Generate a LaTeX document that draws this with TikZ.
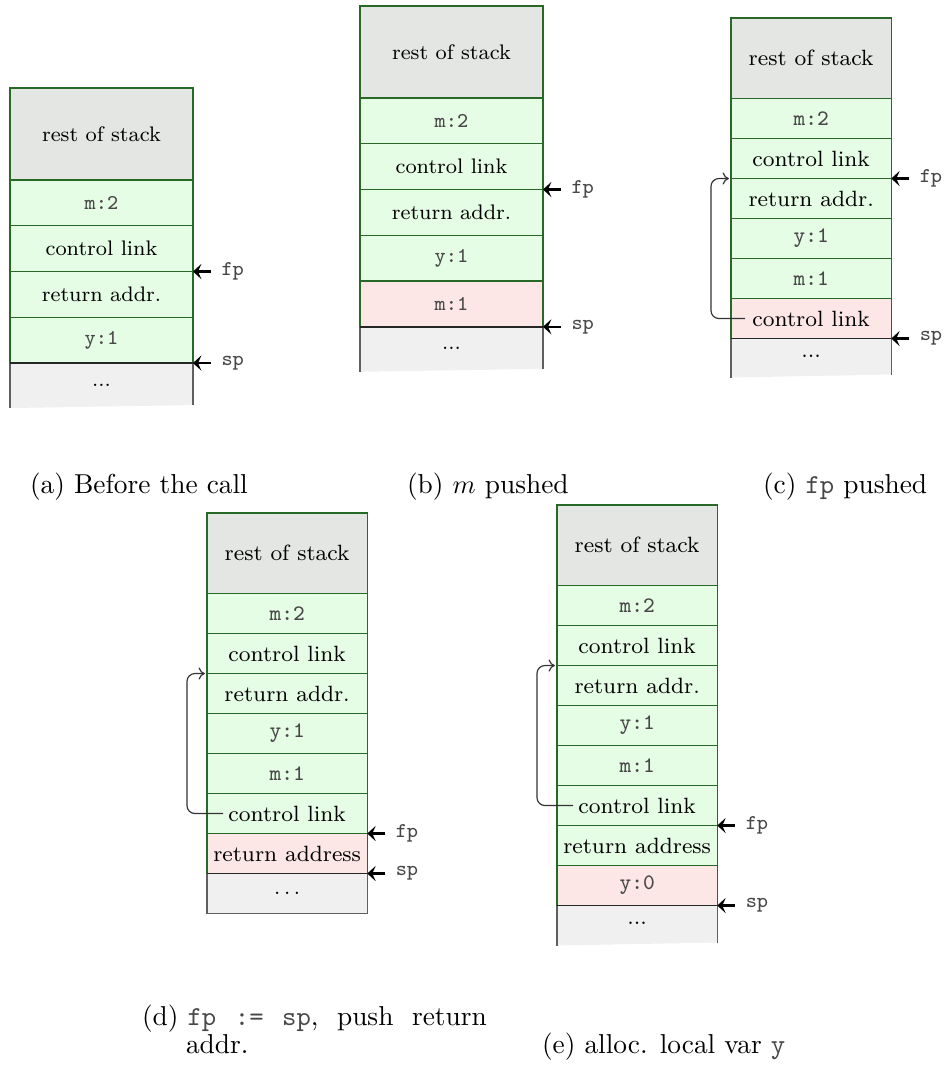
\documentclass[tikz,border=0pt]{standalone}
\usetikzlibrary{arrows.meta,calc}
\definecolor{restgray}{RGB}{228,230,227}
\definecolor{cellgreen}{RGB}{229,252,229}
\definecolor{cellred}{RGB}{252,230,230}
\definecolor{dotsgray}{RGB}{240,240,240}
\definecolor{edgegreen}{RGB}{40,105,40}
\definecolor{edgegray}{RGB}{95,95,95}
\newcommand{\mono}[1]{{\color{black!72}\texttt{#1}}}
\begin{document}
\begin{tikzpicture}[x=0.38pt,y=-0.38pt,
  box/.style={draw=edgegreen, line width=0.5pt, inner sep=0pt, outer sep=0pt, anchor=north west, align=center},
  bigw/.style={box, minimum width=69.54pt, font=\fontsize{8}{9.6}\selectfont},
  smallw/.style={box, minimum width=60.9pt, font=\fontsize{8.4}{10}\selectfont},
  brest/.style={bigw, fill=restgray, minimum height=34.96pt},
  bg/.style={bigw, fill=cellgreen, minimum height=17.39pt},
  br/.style={bigw, fill=cellred, minimum height=17.39pt},
  srest/.style={smallw, fill=restgray, minimum height=30.6pt},
  sg/.style={smallw, fill=cellgreen, minimum height=15.2pt},
  sr/.style={smallw, fill=cellred, minimum height=15.2pt},
  dotstxt/.style={inner sep=0pt, outer sep=0pt},
  sides/.style={draw=edgegray, line width=0.5pt},
  topline/.style={draw=black!85, line width=0.6pt},
  lbl/.style={anchor=west, inner xsep=3.8pt, inner ysep=0pt, text=black!72, font=\ttfamily\fontsize{8}{9.6}\selectfont},
  ptr/.style={line width=0.8pt, -{Stealth[length=3.2pt,width=5.8pt,inset=1.3pt]}},
  link/.style={line width=0.45pt, draw=black!80, rounded corners=3pt, -{To[length=2.4pt,width=4.6pt]}},
  captxt/.style={inner sep=0pt, outer sep=0pt, font=\fontsize{10.4}{12.5}\selectfont, anchor=west}
]
\useasboundingbox (0,0) rectangle (944,1068);

% ---------------- (a) ----------------
\node[brest] (a0) at (10,88) {rest of stack};
\node[bg] (a1) at (a0.south west) {\mono{m:2}};
\node[bg] (a2) at (a1.south west) {control link};
\node[bg] (a3) at (a2.south west) {return addr.};
\node[bg] (a4) at (a3.south west) {\mono{y:1}};
\fill[dotsgray] (a4.south west) -- (a4.south east) -- ($(a4.south east)+(0,42)$) -- ($(a4.south west)+(0,45)$) -- cycle;
\node[dotstxt, font=\fontsize{8}{9.6}\selectfont] (a5) at ($(a4.south)+(0,22)$) {...};
\draw[sides] ($(a4.south west)+(0,45)$) -- (a4.south west);
\draw[sides] ($(a4.south east)+(0,42)$) -- (a4.south east);
\draw[topline] (a4.south west) -- (a4.south east);
\node[lbl] (afp) at ($(a2.south east)+(18,0)$) {fp};
\node[lbl] (asp) at ($(a4.south east)+(18,0)$) {sp};
\draw[ptr] (afp.west) -- (a2.south east);
\draw[ptr] (asp.west) -- (a4.south east);

% ---------------- (b) ----------------
\node[brest] (b0) at (360,6) {rest of stack};
\node[bg] (b1) at (b0.south west) {\mono{m:2}};
\node[bg] (b2) at (b1.south west) {control link};
\node[bg] (b3) at (b2.south west) {return addr.};
\node[bg] (b4) at (b3.south west) {\mono{y:1}};
\node[br] (b5) at (b4.south west) {\mono{m:1}};
\fill[dotsgray] (b5.south west) -- (b5.south east) -- ($(b5.south east)+(0,42)$) -- ($(b5.south west)+(0,45)$) -- cycle;
\node[dotstxt, font=\fontsize{8}{9.6}\selectfont] (b6) at ($(b5.south)+(0,22)$) {...};
\draw[sides] ($(b5.south west)+(0,45)$) -- (b5.south west);
\draw[sides] ($(b5.south east)+(0,42)$) -- (b5.south east);
\draw[topline] (b5.south west) -- (b5.south east);
\node[lbl] (bfp) at ($(b2.south east)+(18,0)$) {fp};
\node[lbl] (bsp) at ($(b5.south east)+(18,0)$) {sp};
\draw[ptr] (bfp.west) -- (b2.south east);
\draw[ptr] (bsp.west) -- (b5.south east);

% ---------------- (c) ----------------
\node[srest] (c0) at (731,18) {rest of stack};
\node[sg] (c1) at (c0.south west) {\mono{m:2}};
\node[sg] (c2) at (c1.south west) {control link};
\node[sg] (c3) at (c2.south west) {return addr.};
\node[sg] (c4) at (c3.south west) {\mono{y:1}};
\node[sg] (c5) at (c4.south west) {\mono{m:1}};
\node[sr] (c6) at (c5.south west) {control link};
\fill[dotsgray] (c6.south west) -- (c6.south east) -- ($(c6.south east)+(0,36)$) -- ($(c6.south west)+(0,39)$) -- cycle;
\node[dotstxt, font=\fontsize{8.4}{10}\selectfont] (c7) at ($(c6.south)+(0,18)$) {...};
\draw[sides] ($(c6.south west)+(0,39)$) -- (c6.south west);
\draw[sides] ($(c6.south east)+(0,36)$) -- (c6.south east);
\draw[topline] (c6.south west) -- (c6.south east);
\node[lbl] (cfp) at ($(c2.south east)+(18,0)$) {fp};
\node[lbl] (csp) at ($(c6.south east)+(18,0)$) {sp};
\draw[ptr] (cfp.west) -- (c2.south east);
\draw[ptr] (csp.west) -- (c6.south east);
\draw[link] ($(c6.west)+(14,0)$) -- ($(c6.west)+(-20,0)$) |- ([xshift=-0.8pt]c2.south west);

% ---------------- (d) ----------------
\node[srest] (d0) at (207,513) {rest of stack};
\node[sg] (d1) at (d0.south west) {\mono{m:2}};
\node[sg] (d2) at (d1.south west) {control link};
\node[sg] (d3) at (d2.south west) {return addr.};
\node[sg] (d4) at (d3.south west) {\mono{y:1}};
\node[sg] (d5) at (d4.south west) {\mono{m:1}};
\node[sg] (d6) at (d5.south west) {control link};
\node[sr] (d7) at (d6.south west) {return address};
\node[smallw, draw=edgegray, fill=dotsgray, minimum height=15.2pt] (d8) at (d7.south west) {$\ldots$};
\draw[topline] (d7.south west) -- (d7.south east);
\node[lbl] (dfp) at ($(d6.south east)+(18,0)$) {fp};
\node[lbl] (dsp) at ($(d7.south east)+(18,0)$) {sp};
\draw[ptr] (dfp.west) -- (d6.south east);
\draw[ptr] (dsp.west) -- (d7.south east);
\draw[link] ($(d6.west)+(16,0)$) -- ($(d6.west)+(-20,0)$) |- ([xshift=-0.8pt]d2.south west);

% ---------------- (e) ----------------
\node[srest] (e0) at (557,505) {rest of stack};
\node[sg] (e1) at (e0.south west) {\mono{m:2}};
\node[sg] (e2) at (e1.south west) {control link};
\node[sg] (e3) at (e2.south west) {return addr.};
\node[sg] (e4) at (e3.south west) {\mono{y:1}};
\node[sg] (e5) at (e4.south west) {\mono{m:1}};
\node[sg] (e6) at (e5.south west) {control link};
\node[sg] (e7) at (e6.south west) {return address};
\node[sr] (e8) at (e7.south west) {\mono{y:0}};
\fill[dotsgray] (e8.south west) -- (e8.south east) -- ($(e8.south east)+(0,37)$) -- ($(e8.south west)+(0,40)$) -- cycle;
\node[dotstxt, font=\fontsize{8.4}{10}\selectfont] (e9) at ($(e8.south)+(0,18)$) {...};
\draw[sides] ($(e8.south west)+(0,40)$) -- (e8.south west);
\draw[sides] ($(e8.south east)+(0,37)$) -- (e8.south east);
\draw[topline] (e8.south west) -- (e8.south east);
\node[lbl] (efp) at ($(e6.south east)+(18,0)$) {fp};
\node[lbl] (esp) at ($(e8.south east)+(18,0)$) {sp};
\draw[ptr] (efp.west) -- (e6.south east);
\draw[ptr] (esp.west) -- (e8.south east);
\draw[link] ($(e6.west)+(16,0)$) -- ($(e6.west)+(-20,0)$) |- ([xshift=-0.8pt]e2.south west);

% ---------------- captions ----------------
\node[captxt] (capa) at (30,487) {(a) Before the call};
\node[captxt] (capb) at (407,487) {(b) $m$ pushed};
\node[captxt] (capc) at (763,487) {(c) \mono{fp} pushed};
\node[captxt, anchor=base west] (capd1) at (142,1025) {\makebox[131pt][s]{(d)\ \mono{fp}\hfil\mono{:=}\hfil\mono{sp},\hfil push\hfil return}};
\node[captxt, anchor=base west] (capd2) at (186,1053) {addr.};
\node[captxt, anchor=base west] (cape) at (542,1053) {(e) alloc. local var \mono{y}};
\end{tikzpicture}
\end{document}
